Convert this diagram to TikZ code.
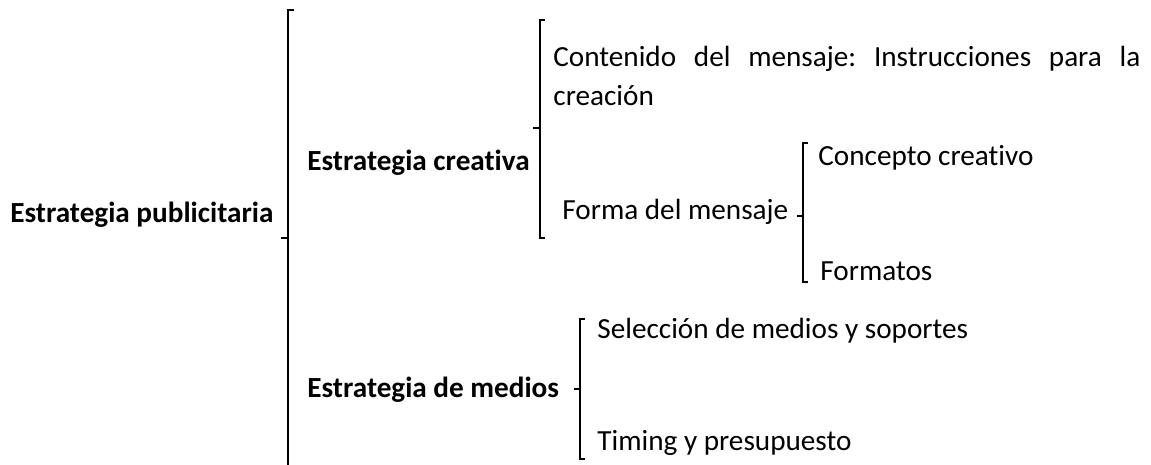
\documentclass[tikz,border=0pt]{standalone}
\usepackage{fontspec}
\setmainfont{Carlito}[RawFeature=-liga]
\frenchspacing
\begin{document}
\begin{tikzpicture}[x=0.5pt,y=-0.5pt,
  txt/.style={anchor=base west,inner sep=0pt,font=\fontsize{14.6}{19}\selectfont},
  btxt/.style={txt,font=\fontsize{14.6}{19}\selectfont\bfseries},
  brace/.style={draw,line width=0.8pt}]
\useasboundingbox (0,0) rectangle (1151,465);
% texts
\node[btxt] (pub) at (10,222) {Estrategia publicitaria};
\node[btxt] (cre) at (307,170) {Estrategia creativa};
\node[btxt] (med) at (307,397) {Estrategia de medios};
\node[txt] (cont) at (553,67) {\makebox[293.5pt][s]{Contenido del mensaje: Instrucciones para la}};
\node[txt] (cont2) at (553,105) {creación};
\node[txt] (forma) at (562,220) {Forma del mensaje};
\node[txt] (conc) at (818,165) {Concepto creativo};
\node[txt] (fmt) at (820,280) {Formatos};
\node[txt] (sel) at (597,338) {Selección de medios y soportes};
\node[txt] (tim) at (597,450) {Timing y presupuesto};
% brace helper coordinates
\coordinate (b1t) at (288,10); \coordinate (b1m) at (288,238); \coordinate (b1b) at (288,466);
\coordinate (b2t) at (540,20); \coordinate (b2m) at (540,128); \coordinate (b2b) at (540,238);
\coordinate (b3t) at (803,143); \coordinate (b3m) at (803,216); \coordinate (b3b) at (803,282);
\coordinate (b4t) at (580,319); \coordinate (b4m) at (580,389); \coordinate (b4b) at (580,459);
% braces
\draw[brace] ([xshift=3pt]b1t) -- (b1t) -- (b1b);
\draw[brace] (b1m) -- ++(-7,0);
\draw[brace] ([xshift=2.5pt]b2t) -- (b2t) -- (b2b) -- ++(5,0);
\draw[brace] (b2m) -- ++(-7,0);
\draw[brace] ([xshift=2.5pt]b3t) -- (b3t) -- (b3b) -- ++(5,0);
\draw[brace] (b3m) -- ++(-6,0);
\draw[brace] ([xshift=2.5pt]b4t) -- (b4t) -- (b4b) -- ++(5,0);
\draw[brace] (b4m) -- ++(-6,0);
\end{tikzpicture}
\end{document}
